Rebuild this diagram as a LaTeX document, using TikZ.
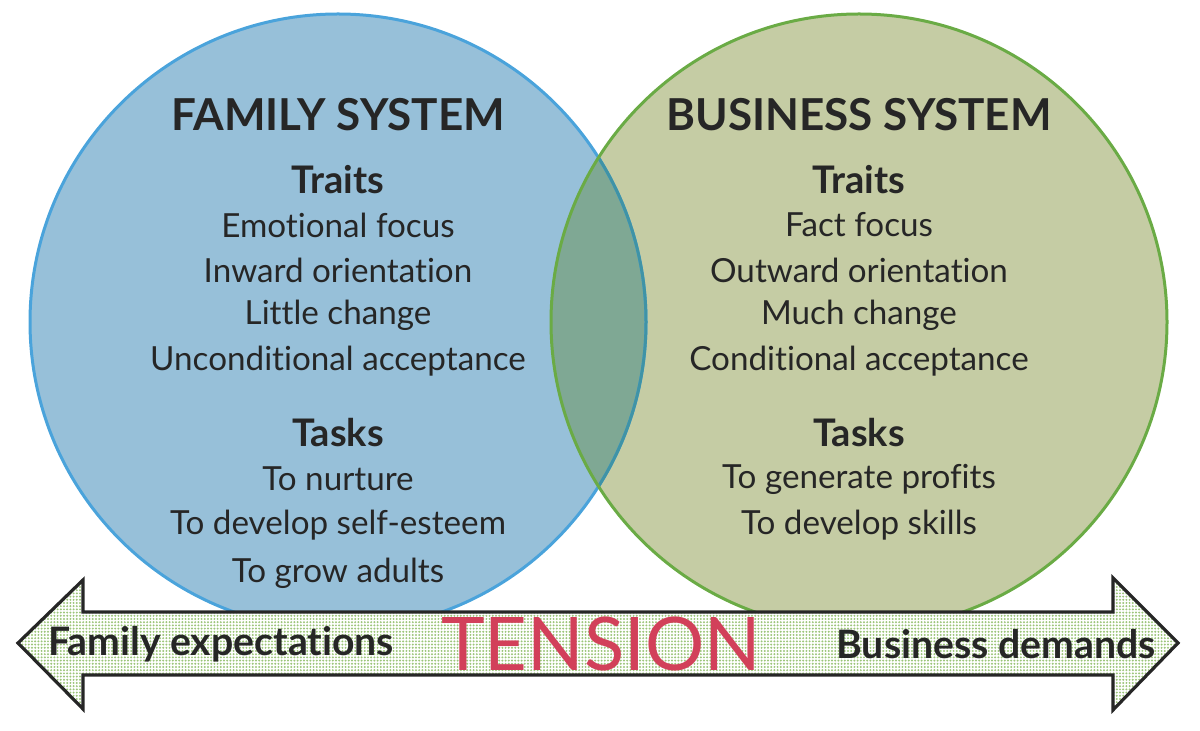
\documentclass[tikz,border=0pt]{standalone}
\usepackage{fontspec}
\setmainfont{Lato}[Ligatures=NoCommon]
\usetikzlibrary{patterns.meta}
\definecolor{famfill}{HTML}{97C0D9}
\definecolor{famline}{HTML}{4AA3DB}
\definecolor{busfill}{HTML}{C5CCA4}
\definecolor{busline}{HTML}{6AAB45}
\definecolor{lapfill}{HTML}{7FA894}
\definecolor{lapline}{HTML}{3F93A6}
\definecolor{tensred}{HTML}{D2405A}
\definecolor{txtdark}{HTML}{262626}
\definecolor{dotgreen}{HTML}{9CC57A}
\tikzset{
  syshead/.style={font=\fontsize{22}{26}\selectfont\bfseries,text=txtdark,inner sep=0pt},
  subhead/.style={font=\fontsize{19}{22}\selectfont\bfseries,text=txtdark,inner sep=0pt},
  itemtext/.style={font=\fontsize{16.6}{20}\selectfont,text=txtdark,inner sep=0pt},
  arrowtext/.style={font=\fontsize{19.6}{23}\selectfont\bfseries,text=txtdark,inner sep=0pt},
  tensiontext/.style={font=\fontsize{37}{44}\selectfont,text=tensred,inner sep=0pt},
  tensarrow/.style={draw=txtdark,line width=1.6pt,line join=miter,preaction={fill=white},pattern={Dots[distance=1.6pt,radius=0.55pt]},pattern color=dotgreen},
}
\begin{document}
\begin{tikzpicture}[x=0.5pt,y=-0.5pt]
\useasboundingbox (0,0) rectangle (1200,731);
% circles
\fill[famfill] (338,322) circle (154pt);
\fill[busfill] (859,322) circle (154pt);
\begin{scope}
\clip (338,322) circle (154pt);
\fill[lapfill] (859,322) circle (154pt);
\end{scope}
\draw[famline,line width=1.5pt] (338,322) circle (154pt);
\begin{scope}
\clip (859,322) circle (154pt);
\draw[lapline,line width=1.5pt] (338,322) circle (154pt);
\end{scope}
\draw[busline,line width=1.5pt] (859,322) circle (154pt);
% family side
\node[syshead] (famhead) at (338,115) {FAMILY SYSTEM};
\node[subhead] (famtraits) at (338,180) {Traits};
\node[itemtext] (famt1) at (338,225) {Emotional focus};
\node[itemtext] (famt2) at (338,270) {Inward orientation};
\node[itemtext] (famt3) at (338,315) {Little change};
\node[itemtext] (famt4) at (338,361) {Unconditional acceptance};
\node[subhead] (famtasks) at (338,433) {Tasks};
\node[itemtext] (famk1) at (338,479) {To nurture};
\node[itemtext] (famk2) at (338,525) {To develop self-esteem};
\node[itemtext] (famk3) at (338,573) {To grow adults};
% business side
\node[syshead] (bushead) at (859,115) {BUSINESS SYSTEM};
\node[subhead] (bustraits) at (859,180) {Traits};
\node[itemtext] (bust1) at (859,225) {Fact focus};
\node[itemtext] (bust2) at (859,270) {Outward orientation};
\node[itemtext] (bust3) at (859,315) {Much change};
\node[itemtext] (bust4) at (859,361) {Conditional acceptance};
\node[subhead] (bustasks) at (859,433) {Tasks};
\node[itemtext] (busk1) at (859,479) {To generate profits};
\node[itemtext] (busk2) at (859,525) {To develop skills};
% tension arrow
\draw[tensarrow] (18,643) -- (83,580) -- (83,612) -- (1113,612) -- (1113,578) -- (1178,643)
  -- (1113,710) -- (1113,675) -- (83,675) -- (83,709) -- cycle;
\node[arrowtext] (famexp) at (221,644) {Family expectations};
\node[tensiontext] (tension) at (601,644) {TENSION};
\node[arrowtext] (busdem) at (996,644) {Business demands};
\end{tikzpicture}
\end{document}
